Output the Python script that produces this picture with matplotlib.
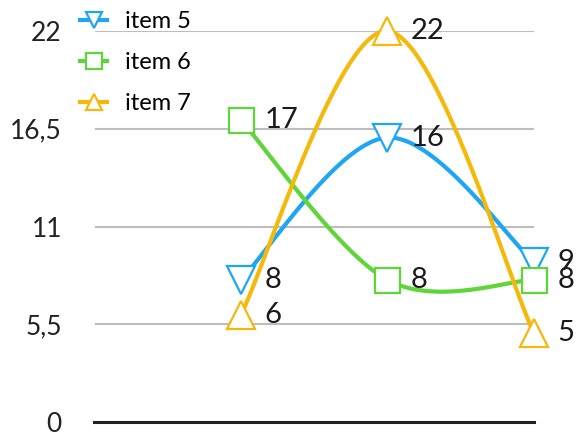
import numpy as np
import matplotlib
matplotlib.use("Agg")
import matplotlib.pyplot as plt
from matplotlib.lines import Line2D

# ── Datos ────────────────────────────────────────────────────────────────
categorias = [1, 2, 3]          # la primera posición (0) queda vacía
serie_nombres = ["item 5", "item 6", "item 7"]
item5 = [8, 16, 9]
item6 = [17, 8, 8]
item7 = [6, 22, 5]
y_ticks = [0, 5.5, 11, 16.5, 22]
y_tick_labels = ["0", "5,5", "11", "16,5", "22"]

colores = ["#1ea6f4", "#5ed63a", "#f5b90c"]
marcadores = ["v", "s", "^"]
tam_marcador = [20, 18, 20]

plt.rcParams["font.family"] = ["Lato", "DejaVu Sans"]


def catmull_rom(x, y, n=60):
    """Curva Catmull-Rom uniforme (extremos duplicados), en forma paramétrica."""
    P = np.column_stack([x, y]).astype(float)
    P = np.vstack([P[0], P, P[-1]])
    t = np.linspace(0, 1, n)
    h00 = 2*t**3 - 3*t**2 + 1
    h10 = t**3 - 2*t**2 + t
    h01 = -2*t**3 + 3*t**2
    h11 = t**3 - t**2
    trozos = []
    for i in range(1, len(P) - 2):
        m0 = (P[i + 1] - P[i - 1]) / 2
        m1 = (P[i + 2] - P[i]) / 2
        seg = (np.outer(h00, P[i]) + np.outer(h10, m0)
               + np.outer(h01, P[i + 1]) + np.outer(h11, m1))
        trozos.append(seg)
    c = np.vstack(trozos)
    return c[:, 0], c[:, 1]


fig = plt.figure(figsize=(5.76, 4.36), dpi=100)
ax = fig.add_axes([0.163, 0.032, 0.764, 0.897])
ax.set_xlim(0, 3)
ax.set_ylim(0, 22)

for yv in y_ticks[1:]:
    ax.axhline(yv, xmin=0.005, xmax=0.998, color="#bdbdbd", lw=1.5, zorder=1)
ax.axhline(0, color="#222222", lw=2.2, zorder=2, clip_on=False)

handles = []
for nombre, vals, col, mk, ms in zip(serie_nombres, [item5, item6, item7],
                                     colores, marcadores, tam_marcador):
    xs, ys = catmull_rom(categorias, vals)
    ax.plot(xs, ys, color=col, lw=3, zorder=3, clip_on=False, solid_capstyle="round")
    ax.plot(categorias, vals, ls="none", marker=mk, ms=ms, mfc="white", mec=col,
            mew=1.6, zorder=4, clip_on=False)
    for xv, yv in zip(categorias, vals):
        ax.annotate(str(yv), (xv, yv), xytext=(17, 0), textcoords="offset points",
                    fontsize=21, color="#1a1a1a", va="center", ha="left",
                    zorder=5, annotation_clip=False)
    handles.append(Line2D([], [], color=col, lw=3, marker=mk, ms=12, mfc="white",
                          mec=col, mew=1.6, label=nombre))

ax.set_yticks(y_ticks)
ax.set_yticklabels(y_tick_labels, fontsize=19, color="#222222")
ax.set_xticks([])
ax.tick_params(axis="y", length=0, pad=23)
for s in ax.spines.values():
    s.set_visible(False)

fig.legend(handles=handles, loc="upper left", bbox_to_anchor=(0.139, 0.974),
           frameon=False, fontsize=17, handlelength=1.15, handletextpad=0.75,
           labelspacing=0.85, borderpad=0, borderaxespad=0)

fig.savefig("out.png", dpi=100)
